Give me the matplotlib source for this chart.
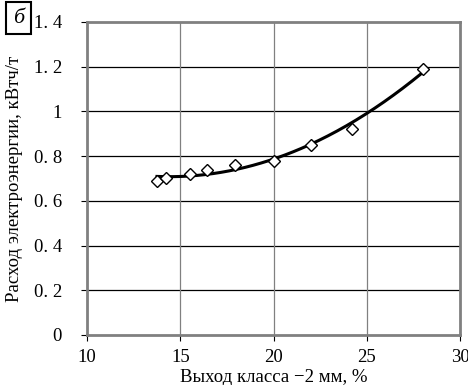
import numpy as np
import matplotlib
matplotlib.use("Agg")
import matplotlib.pyplot as plt

plt.rcParams['font.family'] = ['Liberation Serif', 'DejaVu Serif']

x_vals = [13.75, 14.25, 15.5, 16.45, 17.95, 20.0, 22.0, 24.2, 28.0]
y_vals = [0.69, 0.70, 0.72, 0.74, 0.76, 0.78, 0.85, 0.92, 1.19]
y_ticks = [0, 0.2, 0.4, 0.6, 0.8, 1.0, 1.2, 1.4]
y_tick_labels = ['0', '0. 2', '0. 4', '0. 6', '0. 8', '1', '1. 2', '1. 4']
x_ticks = [10, 15, 20, 25, 30]
x_tick_labels = ['10', '15', '20', '25', '30']

fig = plt.figure(figsize=(4.68, 3.85), dpi=100)
ax = fig.add_axes([0.186, 0.13, 0.797, 0.813])

coef = np.polyfit(x_vals, y_vals, 2)
xs = np.linspace(min(x_vals), max(x_vals), 200)
ax.plot(xs, np.polyval(coef, xs), color='black', lw=2.2, zorder=3)
ax.plot(x_vals, y_vals, linestyle='none', marker='D', markersize=6.5,
        markerfacecolor='white', markeredgecolor='black', markeredgewidth=1.0, zorder=4)

ax.set_xlim(10, 30)
ax.set_ylim(0, 1.4)
ax.set_xticks(x_ticks)
ax.set_xticklabels(x_tick_labels)
ax.set_yticks(y_ticks)
ax.set_yticklabels(y_tick_labels)
ax.tick_params(axis='both', labelsize=13.5, direction='out', length=4, color='black')
ax.tick_params(axis='x', pad=6)
ax.tick_params(axis='y', pad=14)
for yt in y_ticks[1:-1]:
    ax.axhline(yt, color='black', lw=0.9, zorder=1)
for xt in x_ticks[1:-1]:
    ax.axvline(xt, color='#808080', lw=0.9, zorder=1)
for s in ax.spines.values():
    s.set_color('#808080')
    s.set_linewidth(2)

ax.set_xlabel('Выход класса −2 мм, %', fontsize=13.5, labelpad=2)
ax.set_ylabel('Расход электроэнергии, кВтч/т', fontsize=13.5, labelpad=8)

fig.text(0.04, 0.953, 'б', fontsize=16, style='italic', ha='center', va='center',
         bbox=dict(boxstyle='square,pad=0.3', facecolor='white', edgecolor='black', lw=1.5))

fig.savefig('out.png', dpi=100)
